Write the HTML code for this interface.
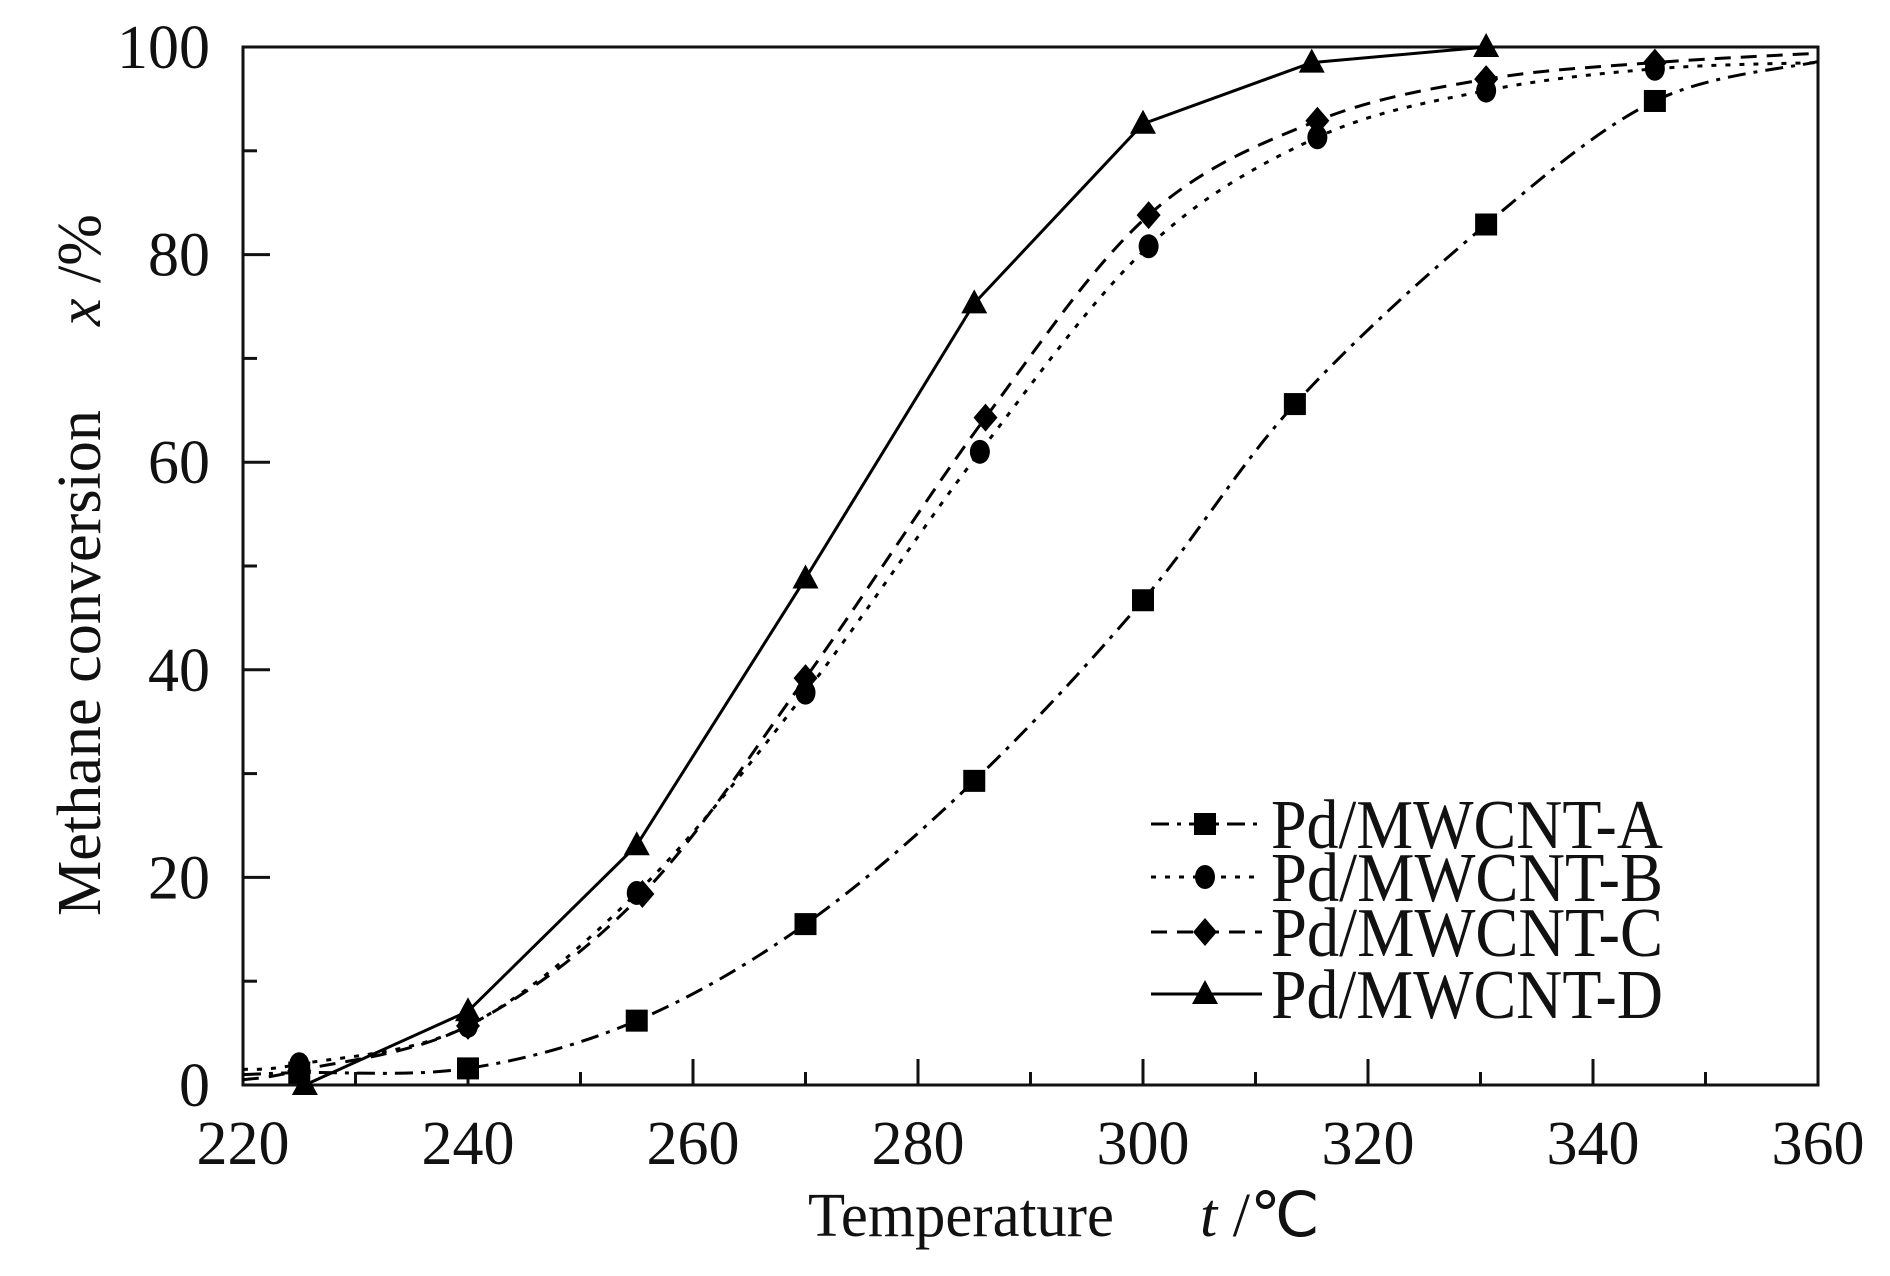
<!DOCTYPE html>
<html><head><meta charset="utf-8"><style>
html,body{margin:0;padding:0;background:#fff;}
svg{display:block;}
text{font-family:"Liberation Serif",serif;fill:#111;}
</style></head><body>
<svg id="chart" width="1890" height="1276" viewBox="0 0 1890 1276">
<g id="axes"></g>
<g id="series"></g>
<g id="legend"></g>
<text x="808" y="1236" font-size="62" textLength="306" lengthAdjust="spacingAndGlyphs">Temperature</text>
<text x="1200" y="1236" font-size="62"><tspan font-style="italic">t</tspan> /℃</text>
<g transform="translate(100,0) rotate(-90)">
<text x="-916" y="0" font-size="62" textLength="506" lengthAdjust="spacingAndGlyphs">Methane conversion</text>
<text x="-326" y="0" font-size="62"><tspan font-style="italic">x</tspan> /%</text>
</g>
</svg>
<script>
const xTicks = [220,240,260,280,300,320,340,360];
const yTicks = [0,20,40,60,80,100];
const seriesNames = ["Pd/MWCNT-A","Pd/MWCNT-B","Pd/MWCNT-C","Pd/MWCNT-D"];
const tempA = [220,225,240,255,270,285,300,313.5,330.5,345.5,360];
const convA = [1.0,1.2,1.6,6.2,15.5,29.3,46.7,65.6,82.9,94.8,98.6];
const tempB = [220,225,240,255,270,285.5,300.5,315.5,330.5,345.5,360];
const convB = [1.5,2.0,5.7,18.5,37.8,61,80.8,91.3,95.8,97.9,98.5];
const tempC = [220,225,240,255.5,270,286,300.5,315.5,330.5,345.5,360];
const convC = [0.5,1.4,5.7,18.4,39.2,64.3,83.8,92.9,96.9,98.5,99.4];
const tempD = [225.5,240,255,270,285,300,315,330.5];
const convD = [0,7.1,23.1,48.8,75.3,92.6,98.5,100];

const L=243,R=1818,T=47,B=1085;
const xs=v=>L+(v-220)/(360-220)*(R-L);
const ys=v=>B-(v/100)*(B-T);
const NS="http://www.w3.org/2000/svg";
function mk(tag,parent){const e=document.createElementNS(NS,tag);parent.appendChild(e);return e;}
const axes=document.getElementById('axes');
const frame=mk('rect',axes);


frame.setAttribute('x',L);frame.setAttribute('y',T);frame.setAttribute('width',R-L);frame.setAttribute('height',B-T);
frame.setAttribute('fill','none');frame.setAttribute('stroke','#111');frame.setAttribute('stroke-width','3');
for(let v=220;v<=360;v+=10){
  const t=mk('line',axes);
  
  
  const len=(v%20===0)?26:13;
  t.setAttribute('x1',xs(v));t.setAttribute('x2',xs(v));t.setAttribute('y1',B);t.setAttribute('y2',B-len);
  t.setAttribute('stroke','#111');t.setAttribute('stroke-width','3');
}
for(let v=0;v<=100;v+=10){
  const t=mk('line',axes);
  
  
  const len=(v%20===0)?27:14;
  t.setAttribute('y1',ys(v));t.setAttribute('y2',ys(v));t.setAttribute('x1',L);t.setAttribute('x2',L+len);
  t.setAttribute('stroke','#111');t.setAttribute('stroke-width','3');
}
xTicks.forEach(v=>{
  const t=mk('text',axes);
  
  
  t.setAttribute('x',xs(v));t.setAttribute('y',1164);t.setAttribute('font-size','62');t.setAttribute('text-anchor','middle');
  t.textContent=v;
});
yTicks.forEach(v=>{
  const t=mk('text',axes);
  
  
  t.setAttribute('x',210);t.setAttribute('y',ys(v)+21);t.setAttribute('font-size','62');t.setAttribute('text-anchor','end');
  t.textContent=v;
});
function smoothPath(px,py){
  let d='M'+px[0]+','+py[0];
  for(let i=0;i<px.length-1;i++){
    const x0=px[Math.max(0,i-1)],y0=py[Math.max(0,i-1)];
    const x1=px[i],y1=py[i],x2=px[i+1],y2=py[i+1];
    const x3=px[Math.min(px.length-1,i+2)],y3=py[Math.min(px.length-1,i+2)];
    const c1x=x1+(x2-x0)/6,c1y=y1+(y2-y0)/6,c2x=x2-(x3-x1)/6,c2y=y2-(y3-y1)/6;
    d+=' C'+c1x+','+c1y+' '+c2x+','+c2y+' '+x2+','+y2;
  }
  return d;
}
function marker(g,type,cx,cy){
  let m;
  if(type==='square'){m=mk('rect',g);m.setAttribute('x',cx-11);m.setAttribute('y',cy-11);m.setAttribute('width',22);m.setAttribute('height',22);}
  else if(type==='circle'){m=mk('ellipse',g);m.setAttribute('cx',cx);m.setAttribute('cy',cy);m.setAttribute('rx',10);m.setAttribute('ry',12);}
  else if(type==='diamond'){m=mk('polygon',g);m.setAttribute('points',`${cx},${cy-14} ${cx+12},${cy} ${cx},${cy+14} ${cx-12},${cy}`);}
  else {m=mk('polygon',g);m.setAttribute('points',`${cx},${cy-14} ${cx+13},${cy+10} ${cx-13},${cy+10}`);}
  m.setAttribute('fill','#000');
  return m;
}
const cfg=[
 {t:tempA,v:convA,dash:'18,8,4,8',mk:'square',smooth:true,id:'a'},
 {t:tempB,v:convB,dash:'5,9',mk:'circle',smooth:true,id:'b'},
 {t:tempC,v:convC,dash:'16,10',mk:'diamond',smooth:true,id:'c'},
 {t:tempD,v:convD,dash:'',mk:'triangle',smooth:false,id:'d'}
];
const sg=document.getElementById('series');
cfg.forEach(s=>{
  const g=mk('g',sg);
  
  
  const px=s.t.map(xs),py=s.v.map(ys);
  const p=mk('path',g);
  
  
  p.setAttribute('d',s.smooth?smoothPath(px,py):'M'+px.map((x,i)=>x+','+py[i]).join(' L'));
  p.setAttribute('fill','none');p.setAttribute('stroke','#000');p.setAttribute('stroke-width','3');
  if(s.dash)p.setAttribute('stroke-dasharray',s.dash);
  s.t.forEach((t,i)=>{
    if(t===220||t===360)return;
    const m=marker(g,s.mk,xs(t),ys(s.v[i]));
    
    
  });
});
const lg=document.getElementById('legend');
const rowsY=[824,877,932,994];
cfg.forEach((s,i)=>{
  const g=mk('g',lg);
  
  
  const l=mk('line',g);
  l.setAttribute('x1',1151);l.setAttribute('x2',1262);l.setAttribute('y1',rowsY[i]);l.setAttribute('y2',rowsY[i]);
  l.setAttribute('stroke','#000');l.setAttribute('stroke-width','3');
  if(s.dash)l.setAttribute('stroke-dasharray',s.dash);
  marker(g,s.mk,1205,rowsY[i]);
  const t=mk('text',g);
  t.setAttribute('x',1271);t.setAttribute('y',rowsY[i]+24);t.setAttribute('font-size','70');
  t.setAttribute('textLength','392');t.setAttribute('lengthAdjust','spacingAndGlyphs');
  t.textContent=seriesNames[i];
});
</script>
</body></html>
